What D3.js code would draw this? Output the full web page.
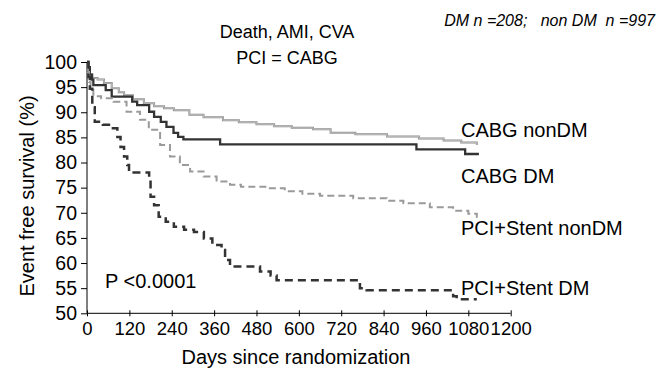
<!DOCTYPE html>
<html>
<head>
<meta charset="utf-8">
<script src="https://cdn.jsdelivr.net/npm/d3@7"></script>
<style>
  body { margin: 0; background: #fff; }
  text { font-family: "Liberation Sans", Arial, sans-serif; fill: #000; }
</style>
</head>
<body>
<div id="chartContainer"></div>
<script>
var width = 658, height = 372;
var margin = { top: 62, right: 147, bottom: 59, left: 87 };

// x ticks (days) and y ticks (%)
var xTicks = [0, 120, 240, 360, 480, 600, 720, 840, 960, 1080, 1200];
var yTicks = [50, 55, 60, 65, 70, 75, 80, 85, 90, 95, 100];

// Kaplan-Meier steps
var cabgNonDmDays = [0, 3, 8, 15, 30, 48, 70, 90, 105, 130, 161, 190, 218, 246, 290, 330, 385, 430, 480, 530, 580, 640, 690, 760, 850, 940, 1010, 1060, 1104];
var cabgNonDmSurv = [100, 98.5, 97.5, 96.8, 96.5, 95.8, 94.8, 94.0, 93.4, 92.6, 91.8, 91.2, 90.8, 90.4, 89.5, 89.0, 88.4, 88.0, 87.6, 87.2, 86.9, 86.6, 85.9, 85.6, 85.2, 84.8, 84.4, 84.0, 83.5];

var cabgDmDays = [0, 4, 8, 14, 18, 53, 70, 128, 142, 176, 190, 209, 225, 245, 258, 273, 377, 933, 1071, 1110];
var cabgDmSurv = [100, 99, 97.5, 96.5, 95.4, 94.4, 93.1, 92.1, 91.4, 90.1, 89.1, 88.1, 87.1, 85.9, 85.1, 84.6, 83.6, 82.6, 81.7, 81.7];

var pciNonDmDays = [0, 3, 6, 10, 18, 40, 75, 112, 150, 175, 207, 235, 263, 292, 330, 367, 405, 436, 510, 560, 610, 660, 754, 849, 896, 971, 1037, 1080, 1104];
var pciNonDmSurv = [100, 98, 96, 94.5, 93.2, 92.8, 92.1, 90.1, 88.5, 86.5, 83.5, 81.2, 79.5, 78.2, 77.2, 76.2, 75.6, 75.2, 74.9, 74.3, 73.8, 73.4, 72.9, 72.4, 71.9, 71.1, 70.4, 69.8, 69.0];

var pciDmDays = [0, 4, 8, 15, 22, 45, 67, 86, 95, 105, 114, 119, 166, 176, 180, 190, 203, 223, 246, 275, 303, 331, 355, 381, 391, 405, 470, 490, 520, 537, 773, 792, 1037, 1047, 1104];
var pciDmSurv = [100, 97, 94.7, 91, 88.1, 87.5, 86.8, 85.1, 83.1, 81.2, 79.5, 78.0, 78.0, 76.9, 73.2, 71.5, 69.2, 68.2, 67.2, 66.6, 66.2, 64.9, 63.6, 62.6, 60.6, 59.3, 59.3, 58.3, 57.5, 56.6, 55.0, 54.6, 53.4, 52.8, 52.8];

var seriesNames = ["CABG nonDM", "CABG DM", "PCI+Stent nonDM", "PCI+Stent DM"];

var lineStyles = [
    { stroke: "#8c8c8c", width: 2, dash: null },
    { stroke: "#333", width: 2.3, dash: null },
    { stroke: "#9a9a9a", width: 2, dash: "7,4" },
    { stroke: "#333", width: 2.5, dash: "8,5" }
];
var labelY = [137, 183, 235, 295];

function toPoints(days, surv) {
    var pts = [];
    for (var i = 0; i < days.length; i++) {
        pts.push({ day: days[i], surv: surv[i] });
    }
    return pts;
}

function drawChart(divId) {
    var svg = d3.select("#" + divId)
        .append("svg")
        .attr("width", width)
        .attr("height", height);

    var x = d3.scaleLinear().domain([0, 1200]).range([0, 423.7]);
    var y = d3.scaleLinear().domain([50, 100]).range([251.3, 0]);

    var g = svg.append("g")
        .attr("transform", `translate(${margin.left}, ${margin.top})`);

    // y axis
    var yAxis = g.append("g")
        .call(d3.axisLeft(y).tickValues(yTicks).tickSize(6).tickPadding(4));
    yAxis.select(".domain").attr("stroke", "#000").attr("d", "M0,0V251.3");
    yAxis.selectAll("text")
        .style("font-size", "19.5px")
        .attr("font-family", null);

    // x axis
    var xAxis = g.append("g")
        .attr("transform", `translate(0, 251.3)`)
        .call(d3.axisBottom(x).tickValues(xTicks).tickFormat(d3.format("d")).tickSize(3).tickPadding(6));
    xAxis.select(".domain").attr("stroke", "#000").attr("d", "M0,0H423.7");
    xAxis.selectAll(".tick line").attr("y1", -3);
    xAxis.selectAll("text")
        .style("font-size", "18.5px")
        .attr("font-family", null);

    var line = d3.line()
        .x(function (d) { return x(d.day) })
        .y(function (d) { return y(d.surv) })
        .curve(d3.curveStepAfter);

    var allSeries = [
        toPoints(cabgNonDmDays, cabgNonDmSurv),
        toPoints(cabgDmDays, cabgDmSurv),
        toPoints(pciNonDmDays, pciNonDmSurv),
        toPoints(pciDmDays, pciDmSurv)
    ];

    allSeries.forEach(function (data, i) {
        var st = lineStyles[i];
        g.append("path")
            .datum(data)
            .attr("fill", "none")
            .attr("stroke", st.stroke)
            .attr("stroke-width", st.width)
            .attr("stroke-dasharray", st.dash)
            .attr("d", line);
        if (i == 0) {
            // light core on the CABG nonDM line
            g.append("path")
                .datum(data)
                .attr("fill", "none")
                .attr("stroke", "#d0d0d0")
                .attr("stroke-width", 0.7)
                .attr("d", line);
        }
    });

    // series labels
    seriesNames.forEach(function (name, i) {
        svg.append("text")
            .attr("x", 461)
            .attr("y", labelY[i])
            .style("font-size", "20px")
            .text(name);
    });

    svg.append("text")
        .attr("x", 105)
        .attr("y", 288)
        .style("font-size", "20px")
        .text("P <0.0001");

    svg.append("text")
        .attr("x", 287)
        .attr("y", 38)
        .attr("text-anchor", "middle")
        .style("font-size", "18px")
        .text("Death, AMI, CVA");

    svg.append("text")
        .attr("x", 287)
        .attr("y", 64)
        .attr("text-anchor", "middle")
        .style("font-size", "18px")
        .text("PCI = CABG");

    svg.append("text")
        .attr("x", 655)
        .attr("y", 26)
        .attr("text-anchor", "end")
        .style("font-size", "16px")
        .style("font-style", "italic")
        .style("white-space", "pre")
        .text("DM n =208;   non DM  n =997");

    // axis titles
    svg.append("text")
        .attr("x", 296)
        .attr("y", 364)
        .attr("text-anchor", "middle")
        .style("font-size", "20px")
        .text("Days since randomization");

    svg.append("text")
        .attr("transform", "translate(34, 196) rotate(-90)")
        .attr("text-anchor", "middle")
        .style("font-size", "20px")
        .text("Event free survival (%)");
}

drawChart("chartContainer");
</script>
</body>
</html>
